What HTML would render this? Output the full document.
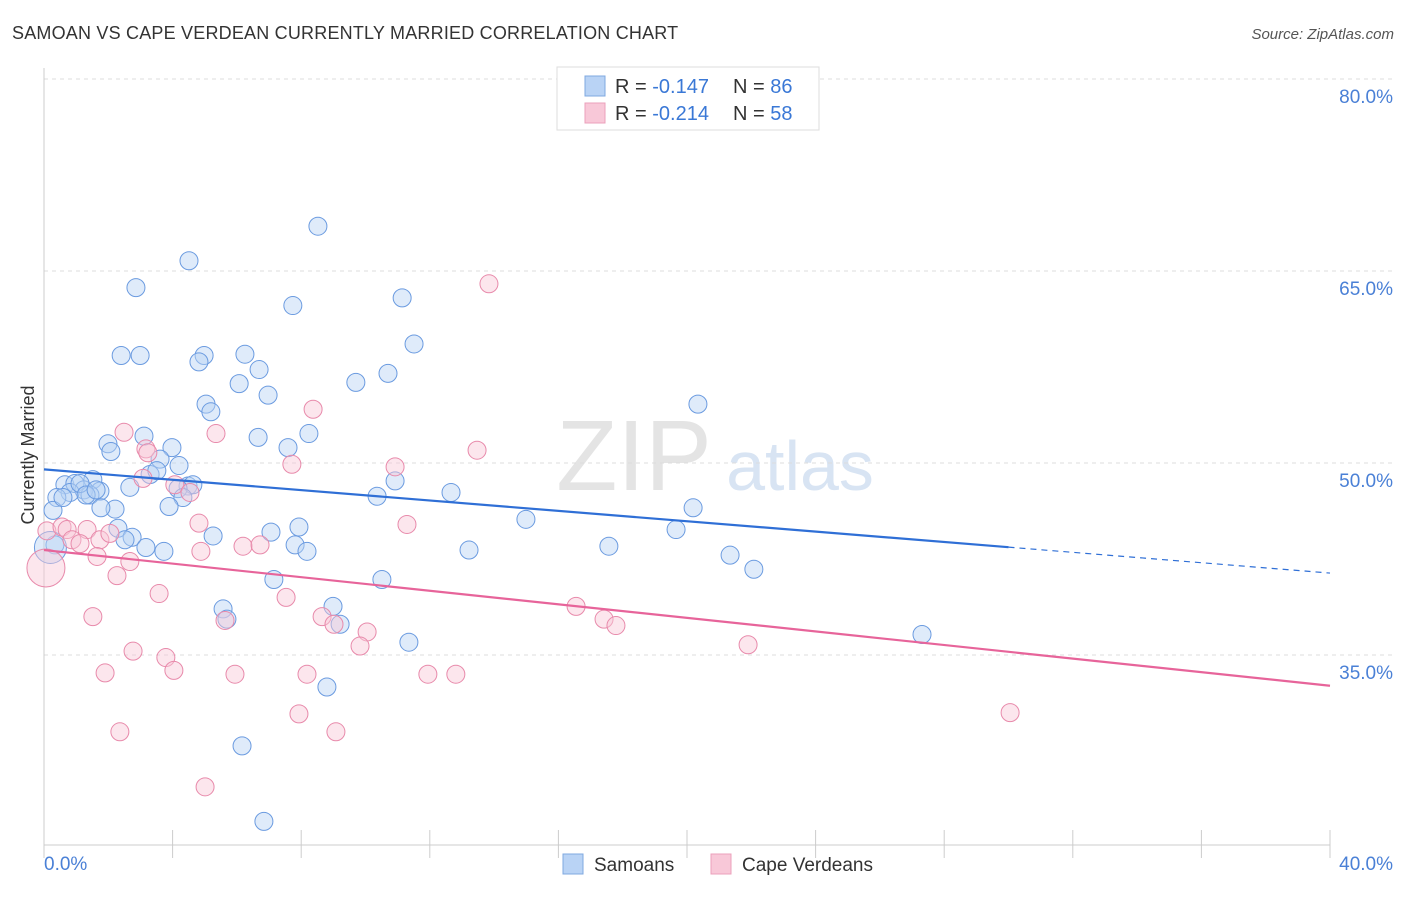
<!DOCTYPE html>
<html><head><meta charset="utf-8"><style>
body{margin:0;background:#fff;font-family:"Liberation Sans",sans-serif;}
svg text{font-family:"Liberation Sans",sans-serif;}
</style></head><body>
<svg id="chart" width="1406" height="892" xmlns="http://www.w3.org/2000/svg">
<text x="12" y="39" font-size="18" fill="#333" letter-spacing="0.2">SAMOAN VS CAPE VERDEAN CURRENTLY MARRIED CORRELATION CHART</text>
<text x="1394" y="39" font-size="15" fill="#555" text-anchor="end" font-style="italic">Source: ZipAtlas.com</text>
<text x="0" y="0" transform="translate(34,455) rotate(-90)" font-size="18" fill="#333" text-anchor="middle">Currently Married</text>
<g>
<text x="634" y="490" font-size="100" fill="#e4e4e4" text-anchor="middle" font-family="Liberation Serif,serif">ZIP</text>
<text x="800" y="490" font-size="70" fill="#d8e4f3" text-anchor="middle">atlas</text>
</g>
<g id="grid"></g><g id="axes"></g><g id="marks"></g>
<g>
<rect x="557" y="67" width="262" height="63" fill="#fff" stroke="#ddd"/>
<rect x="585" y="76" width="20" height="20" fill="#b9d3f5" stroke="#7fa8e0"/>
<rect x="585" y="103" width="20" height="20" fill="#f8c8d8" stroke="#eba0bb"/>
<text x="615" y="93" font-size="20" fill="#333">R = <tspan fill="#3a78d6">-0.147</tspan></text>
<text x="733" y="93" font-size="20" fill="#333">N = <tspan fill="#3a78d6">86</tspan></text>
<text x="615" y="120" font-size="20" fill="#333">R = <tspan fill="#3a78d6">-0.214</tspan></text>
<text x="733" y="120" font-size="20" fill="#333">N = <tspan fill="#3a78d6">58</tspan></text>
</g>
<g>
<rect x="563" y="854" width="20" height="20" fill="#b9d3f5" stroke="#7fa8e0"/>
<text x="594" y="871" font-size="19" fill="#333">Samoans</text>
<rect x="711" y="854" width="20" height="20" fill="#f8c8d8" stroke="#eba0bb"/>
<text x="742" y="871" font-size="19" fill="#333">Cape Verdeans</text>
</g>
</svg>
<script>
const yTicks=[80,65,50,35];
const xTickLabels=["0.0%","40.0%"];
const blueX=[8.52,4.51,2.86,7.74,11.14,11.51,2.40,2.99,4.98,4.82,6.25,6.69,10.70,9.70,6.07,6.97,5.04,5.19,20.34,6.66,3.11,1.99,2.08,3.98,7.59,8.24,3.61,4.20,3.30,3.51,1.52,0.65,0.96,1.74,2.67,4.48,4.63,4.17,4.32,1.24,0.81,0.40,1.43,0.28,3.89,2.21,1.77,10.36,10.92,12.66,14.99,20.19,19.66,2.30,2.74,2.52,5.26,7.06,7.93,3.17,3.73,7.81,8.18,13.22,17.57,21.34,22.08,7.15,10.51,5.57,5.69,8.99,9.21,11.35,27.31,8.80,6.16,6.84,0.34,0.59,1.12,1.31,1.62,0.2];
const blueY=[68.5,65.8,63.7,62.3,62.9,59.3,58.4,58.4,58.4,57.9,58.5,57.3,57.0,56.3,56.2,55.3,54.6,54.0,54.6,52.0,52.1,51.5,50.9,51.2,51.2,52.3,50.3,49.8,49.1,49.4,48.7,48.3,48.4,47.8,48.1,48.2,48.3,48.0,47.3,47.9,47.7,47.3,47.5,46.3,46.6,46.4,46.5,47.4,48.6,47.7,45.6,46.5,44.8,44.9,44.2,44.0,44.3,44.6,45.0,43.4,43.1,43.6,43.1,43.2,43.5,42.8,41.7,40.9,40.9,38.6,37.8,38.8,37.4,36.0,36.6,32.5,27.9,22.0,43.6,47.3,48.4,47.5,47.9,43.4];
const pinkX=[13.84,8.37,2.49,5.35,3.17,3.23,13.47,10.92,7.71,4.07,4.54,3.08,0.09,0.56,0.72,1.34,0.87,1.12,1.74,2.05,1.65,2.67,4.82,4.88,11.29,6.19,6.72,2.27,3.58,7.53,1.52,5.63,8.65,9.02,10.05,9.83,16.55,17.42,17.79,21.90,2.77,3.79,4.04,1.90,5.94,8.18,11.94,12.81,7.93,30.05,2.36,9.08,5.01,0.06];
const pinkY=[64.0,54.2,52.4,52.3,51.1,50.8,51.0,49.7,49.9,48.3,47.7,48.8,44.7,45.0,44.8,44.8,44.0,43.7,44.0,44.5,42.7,42.3,45.3,43.1,45.2,43.5,43.6,41.2,39.8,39.5,38.0,37.7,38.0,37.4,36.8,35.7,38.8,37.8,37.3,35.8,35.3,34.8,33.8,33.6,33.5,33.5,33.5,33.5,30.4,30.5,29.0,29.0,24.7,41.8];
const blueTrend=[49.5,41.4], pinkTrend=[43.2,32.6];
const NS="http://www.w3.org/2000/svg";
const X0=44,X1=1330,Y80=79,PPY=12.8;
const sx=v=>X0+(v/40)*(X1-X0);
const sy=v=>Y80+(80-v)*PPY;
function mk(tag,attrs,parent){const e=document.createElementNS(NS,tag);for(const k in attrs)e.setAttribute(k,attrs[k]);parent.appendChild(e);return e;}
const grid=document.getElementById('grid'),axes=document.getElementById('axes'),marks=document.getElementById('marks');
yTicks.forEach(t=>{
 const l=mk('line',{x1:X0,x2:1394,y1:sy(t),y2:sy(t),stroke:'#ddd','stroke-dasharray':'4,4'},grid);
 
 
 const tx=mk('text',{x:1393,y:sy(t)+24,'font-size':19,fill:'#4a80d6','text-anchor':'end'},grid);
 tx.textContent=t.toFixed(1)+'%';
 
 
});
const ya=mk('line',{x1:X0,x2:X0,y1:68,y2:845,stroke:'#ccc'},axes);


const xa=mk('line',{x1:X0,x2:X1,y1:845,y2:845,stroke:'#ccc'},axes);


for(let i=0;i<=10;i++){const t=mk('line',{x1:sx(i*4),x2:sx(i*4),y1:830,y2:858,stroke:'#ccc'},axes);
 
 }
[[0,'start',44],[40,'end',1393]].forEach((d,i)=>{const t=mk('text',{x:d[2],y:870,'font-size':19,fill:'#4a80d6','text-anchor':d[1]},axes);t.textContent=xTickLabels[i];
 
 });
function pts(xs,ys,fill,stroke,name,bigR){xs.forEach((x,i)=>{const big=i===xs.length-1;
 const c=mk('circle',{cx:sx(x),cy:sy(ys[i]),r:big?bigR:9,fill:fill,'fill-opacity':0.45,stroke:stroke,'stroke-width':1},marks);
 
 });}
pts(blueX,blueY,'#b9d3f5','#6b9be0','samoan-point',16);
pts(pinkX,pinkY,'#f8c8d8','#e88aab','cape-verdean-point',19);
const bxEnd=30;
const bAt=x=>blueTrend[0]+(blueTrend[1]-blueTrend[0])*x/40;
const b1=mk('line',{x1:sx(0),y1:sy(bAt(0)),x2:sx(bxEnd),y2:sy(bAt(bxEnd)),stroke:'#2f6fd6','stroke-width':2.2},marks);


const b2=mk('line',{x1:sx(bxEnd),y1:sy(bAt(bxEnd)),x2:sx(40),y2:sy(bAt(40)),stroke:'#2f6fd6','stroke-width':1.2,'stroke-dasharray':'6,5'},marks);


const p1=mk('line',{x1:sx(0),y1:sy(pinkTrend[0]),x2:sx(40),y2:sy(pinkTrend[1]),stroke:'#e7649a','stroke-width':2.2},marks);


</script>
</body></html>
